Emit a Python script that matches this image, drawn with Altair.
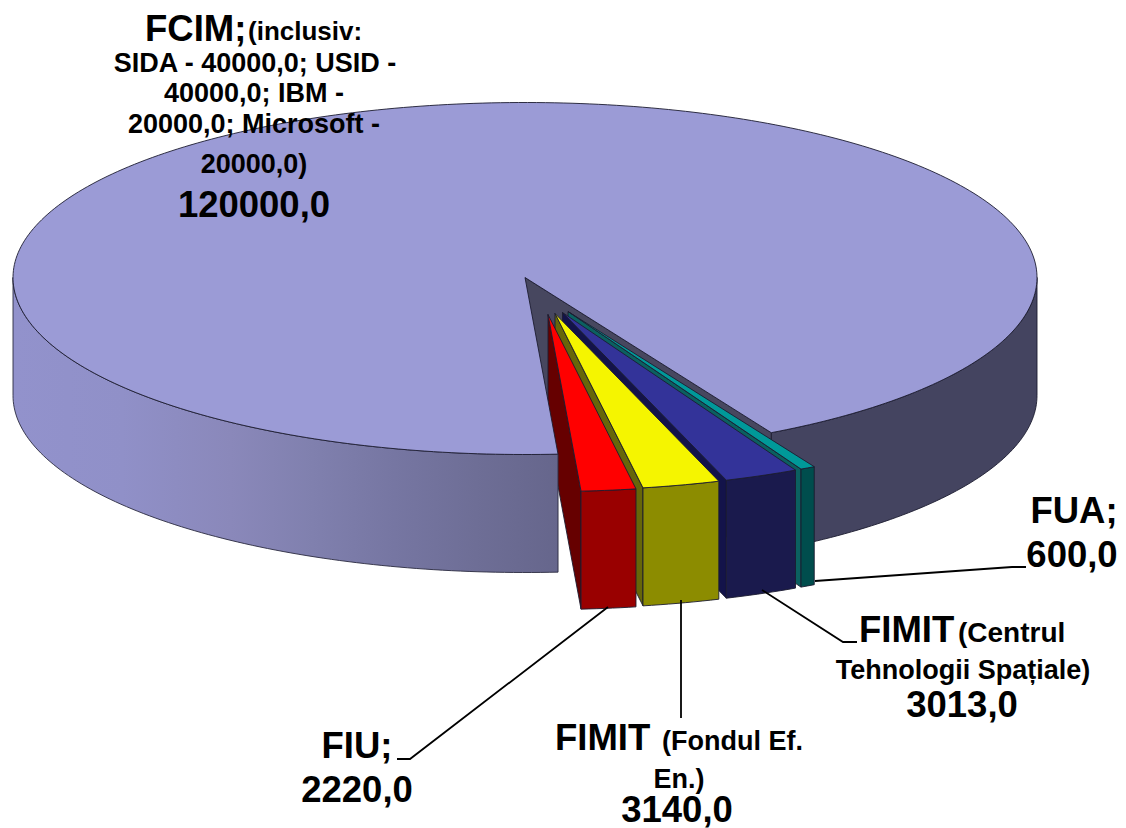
import math
import altair as alt

# ---- values
categories = ["FIU", "FIMIT (Fondul Ef. En.)", "FIMIT (Centrul Tehnologii Spațiale)", "FUA", "FCIM"]
values = [2220.0, 3140.0, 3013.0, 600.0, 120000.0]
top_colors = ["#FF0000", "#F5F500", "#333399", "#009999"]
front_colors = ["#990000", "#8C8C00", "#1A1A4D", "#004D4D"]
side_colors = ["#660000", "#66660A", "#13134A", "#0B6060"]
big_top = "#9B9BD6"
big_right = "#444460"
big_inner = "#47475F"
left_stops = ["#9292CC", "#9090C8", "#8A88BA", "#8080AE", "#7676A2", "#6E6E96", "#66668C"]
left_offsets = [0, 0.2, 0.4, 0.55, 0.7, 0.85, 1]

# ---- drawing geometry of the tilted pie
CX, CY, RX, RY_FRONT, RY_BACK, DEPTH = 525.0, 277.5, 512.0, 177.0, 175.0, 118.0
START_DEG = 3.7
EXPLODE_X = [23, 30, 37.5, 43]
EXPLODE_Y = [37, 36, 35, 34]
OX, OY = 8, 8
W, H = 1110, 820
BIG, SMALL = 36.5, 27


def pt(deg, dx=0.0, dy=0.0, drop=0.0):
    t = math.radians(deg)
    c = math.cos(t)
    ry = RY_FRONT if c >= 0 else RY_BACK
    return [CX + dx + RX * math.sin(t), CY + dy + ry * c + drop]


def arc(a, b, **kw):
    n = max(2, int(abs(b - a)) + 2)
    return [pt(a + (b - a) * i / (n - 1), **kw) for i in range(n)]


def poly(points, fill, stroke="#1c1c30", width=0.9):
    ring = list(points) + [points[0]]
    return {"type": "Feature",
            "geometry": {"type": "Polygon", "coordinates": [ring]},
            "properties": {"fill": fill, "stroke": stroke, "w": width}}


total = sum(values)
spans = [v / total * 360 for v in values]
edges = [START_DEG]
for s in spans[:4]:
    edges.append(edges[-1] + s)
big_a, big_b = edges[4], START_DEG + 360

back = []
# right outer wall and inner cut wall of the large slice
back.append(poly(arc(big_a, 90) + arc(90, big_a, drop=DEPTH), big_right))
back.append(poly([[CX, CY], pt(big_a), pt(big_a, drop=DEPTH), [CX, CY + DEPTH]], big_inner))
# small slices, right to left
for i in [3, 2, 1, 0]:
    a, b = edges[i], edges[i + 1]
    dx, dy = EXPLODE_X[i], EXPLODE_Y[i]
    ax, ay = CX + dx, CY + dy
    back.append(poly([[ax, ay], pt(a, dx, dy), pt(a, dx, dy, DEPTH), [ax, ay + DEPTH]], side_colors[i]))
    back.append(poly(arc(a, b, dx=dx, dy=dy) + arc(b, a, dx=dx, dy=dy, drop=DEPTH), front_colors[i]))
    back.append(poly([[ax, ay]] + arc(a, b, dx=dx, dy=dy), top_colors[i]))

left_wall = [poly(arc(270, big_b) + arc(big_b, 270, drop=DEPTH), "x", stroke="#2a2a40")]
top_face = [poly([[CX, CY]] + arc(big_a, big_b), big_top)]


def line(points):
    return {"type": "Feature", "geometry": {"type": "LineString", "coordinates": points}, "properties": {}}


leaders = [
    line([[815, 581], [1012, 567], [1026, 567]]),
    line([[762, 590], [843, 642], [857, 642]]),
    line([[681, 600], [681, 718]]),
    line([[608, 607], [410, 759], [397, 759]]),
]


def num(v):
    return f"{v:.1f}".replace(".", ",")


texts = [
    ("FCIM;", 145, 41, BIG, "left"),
    ("(inclusiv:", 248, 40, 26, "left"),
    ("SIDA - 40000,0; USID -", 255, 72, SMALL, "center"),
    ("40000,0; IBM -", 254, 102, SMALL, "center"),
    ("20000,0; Microsoft -", 254, 133, SMALL, "center"),
    ("20000,0)", 254, 173, SMALL, "center"),
    (num(values[4]), 254, 217, BIG, "center"),
    ("FUA;", 1074, 523, BIG, "center"),
    (num(values[3]), 1072, 567, BIG, "center"),
    ("FIMIT", 859, 642, BIG, "left"),
    ("(Centrul", 958, 642, 28, "left"),
    ("Tehnologii Spațiale)", 963, 679, SMALL, "center"),
    (num(values[2]), 962, 717, BIG, "center"),
    ("FIMIT", 555, 750, BIG, "left"),
    ("(Fondul Ef.", 662, 750, SMALL, "left"),
    ("En.)", 679, 788, SMALL, "center"),
    (num(values[1]), 677, 822, BIG, "center"),
    ("FIU;", 357, 758, BIG, "center"),
    (num(values[0]), 357, 802, BIG, "center"),
]

proj = dict(type="identity", scale=1, translate=[-OX, -OY])


def geo(features):
    return alt.Data(values=features)


faces = (
    alt.Chart(geo(back)).mark_geoshape()
    .encode(fill=alt.Fill("properties.fill:N", scale=None),
            stroke=alt.Stroke("properties.stroke:N", scale=None),
            strokeWidth=alt.StrokeWidth("properties.w:Q", scale=None))
    .project(**proj)
)
grad = alt.LinearGradient(gradient="linear",
                          stops=[alt.GradientStop(color=c, offset=o) for c, o in zip(left_stops, left_offsets)],
                          x1=0, x2=1, y1=0, y2=0)
wall = alt.Chart(geo(left_wall)).mark_geoshape(fill=grad, stroke="#2a2a40", strokeWidth=0.9).project(**proj)
top = alt.Chart(geo(top_face)).mark_geoshape(fill=big_top, stroke="#1c1c30", strokeWidth=0.9).project(**proj)
lead = alt.Chart(geo(leaders)).mark_geoshape(filled=False, stroke="black", strokeWidth=1.8).project(**proj)

rows = [{"t": t, "x": x - OX, "y": y - OY, "s": s, "a": a} for t, x, y, s, a in texts]
label_layers = []
for al in ("left", "center"):
    label_layers.append(
        alt.Chart(alt.Data(values=[r for r in rows if r["a"] == al]))
        .mark_text(font="Liberation Sans", fontWeight="bold", align=al, baseline="alphabetic", color="black")
        .encode(x=alt.X("x:Q", scale=None, axis=None), y=alt.Y("y:Q", scale=None, axis=None),
                text="t:N", size=alt.Size("s:Q", scale=None, legend=None))
    )

chart = alt.layer(faces, wall, top, lead, *label_layers).properties(
    width=W, height=H, padding=0, background="white"
).configure_view(stroke=None)
chart.save("out.html", embed_options={"renderer": "svg", "actions": False})
